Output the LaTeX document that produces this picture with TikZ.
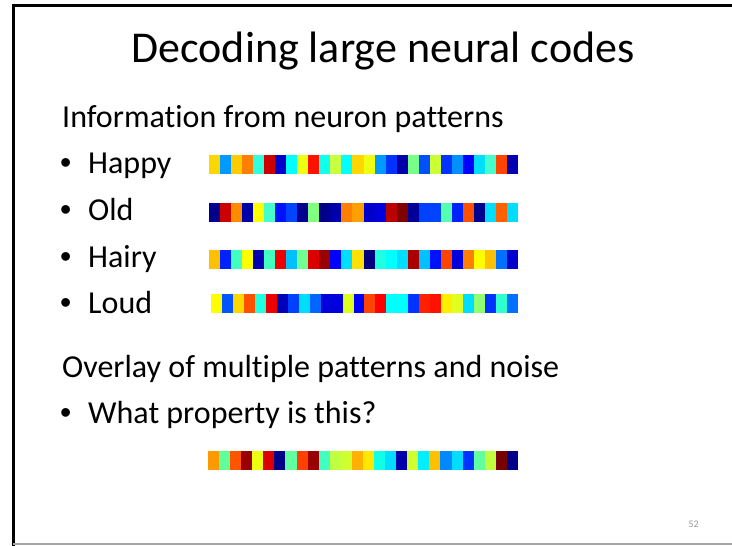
\documentclass[tikz,border=0pt]{standalone}
\usepackage{fontspec}
\setmainfont{Carlito}[Ligatures=NoCommon]
\newfontfamily\bulletfont{Liberation Sans}

% One strip of coloured cells: left x, top y, cell width, list of HTML colours
\newcommand\cellrow[4]{%
  \foreach \hx [count=\k from 0] in {#4} {%
    \definecolor{cellc}{HTML}{\hx}%
    \fill[cellc] ({#1+\k*#3},#2) rectangle ({#1+(\k+1)*#3},{#2+19});
  }%
}

\begin{document}
\begin{tikzpicture}[x=1pt,y=-1pt,
  body/.style={anchor=base west, inner sep=0pt, font=\fontsize{32}{38}\selectfont},
  bullet/.style={anchor=base west, inner sep=0pt, font=\bulletfont\fontsize{32}{38}\selectfont}]
\useasboundingbox (0,0) rectangle (732,546);
\fill[white] (0,0) rectangle (732,546);

% slide frame
\draw[line width=3pt] (13,546) -- (13,5) -- (732,5);
\draw[gray!70, line width=1.5pt] (13,544) -- (732,544);

% title
\node[anchor=base, inner sep=0pt, font=\fontsize{44}{52}\selectfont] (title) at (383,63) {Decoding large neural codes};

% body text
\node[body] (info) at (62,127) {Information from neuron patterns};
\node[bullet] (b1) at (60,173) {•};
\node[body] (happy) at (88,173) {Happy};
\node[bullet] (b2) at (60,220) {•};
\node[body] (old) at (88,220) {Old};
\node[bullet] (b3) at (60,267) {•};
\node[body] (hairy) at (88,267) {Hairy};
\node[bullet] (b4) at (60,313) {•};
\node[body] (loud) at (88,313) {Loud};
\node[body] (overlay) at (62,377) {Overlay of multiple patterns and noise};
\node[bullet] (b5) at (60,423) {•};
\node[body] (question) at (88,423) {What property is this?};

% slide number
\node[anchor=base east, inner sep=0pt, text=gray!80, font=\fontsize{10}{12}\selectfont] (num) at (699,527) {52};

% activity patterns
\cellrow{209}{155}{11.036}{FFD700,0099FF,FFCC00,FF7F00,33FFDD,CC0000,0000CC,00FFFF,EEFF11,FF1100,11FFEE,C8FF40,00FFFF,FFD700,EEFF11,0099FF,0033FF,0000AA,77FF88,0050FF,CCFF33,0033FF,0090FF,0000FF,00DDFF,44FFCC,FF4400,0000B0}
\cellrow{209}{203}{11.036}{00008B,CC0000,FF8C00,0000AA,FFFF00,44FFCC,0011FF,0044FF,000090,80FF80,000088,0000AA,FF8000,FFA000,0000CC,0000DD,BB0000,800000,000099,0040FF,0044FF,55FFB0,0022FF,FF5000,000090,00DDFF,FF6000,00DDFF}
\cellrow{209}{250}{11.036}{FFC000,0022FF,40FFC0,FFFF00,0000B0,40FFC0,EE0000,00C0FF,70FF90,DD0000,990000,0000FF,00DDFF,FFE000,000080,20FFE0,00FFFF,00DDFF,AA0000,00C0FF,0011FF,FF4400,0000DD,FF8000,FFFF00,FFC000,0070FF,0000CC}
\cellrow{211}{294}{10.964}{FFFF00,0055FF,FFD700,FF5000,20FFE0,EE0000,0000BB,0040FF,00DDFF,0066FF,0000DD,0000DD,DDFF20,0000FF,FF4400,FF0000,00FFFF,00FFFF,0033FF,FF2000,FF1000,FFEE00,E0FF20,00DDFF,90FF70,0033FF,30FFD0,0070FF}
\cellrow{208}{451}{11.071}{FF9900,60FF99,FF5500,990000,EEFF11,DD0000,000088,60FFA0,FF4000,990000,40FFC0,C0FF40,D0FF30,FFB000,FFE800,10FFE8,00DDFF,0000AA,D0FF30,00EEFF,FFC000,0088FF,00DDFF,0033FF,60FFA0,C0FF40,770000,000088}
\end{tikzpicture}
\end{document}
